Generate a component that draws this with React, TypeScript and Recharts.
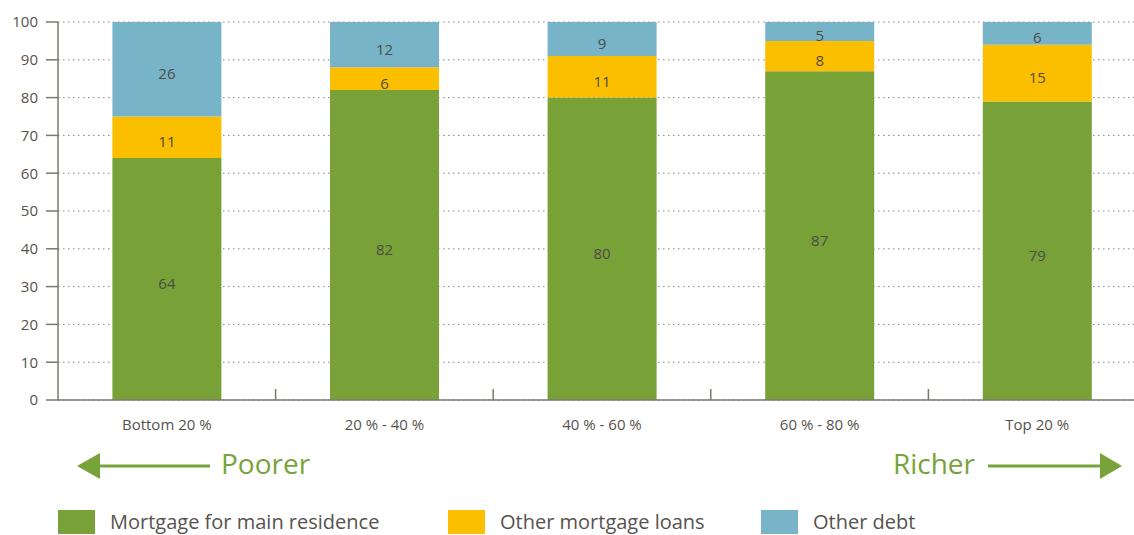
import React from "react";
import { BarChart, Bar, XAxis, YAxis, CartesianGrid, LabelList } from "recharts";

const categories = ["Bottom 20 %", "20 % - 40 %", "40 % - 60 %", "60 % - 80 %", "Top 20 %"];
const mortgageMain = [64, 82, 80, 87, 79];
const otherMortgage = [11, 6, 11, 8, 15];
const otherDebt = [26, 12, 9, 5, 6];
const yTicks = [0, 10, 20, 30, 40, 50, 60, 70, 80, 90, 100];

const series = [
  { key: "main", name: "Mortgage for main residence", color: "#78A237" },
  { key: "other", name: "Other mortgage loans", color: "#FBBF00" },
  { key: "debt", name: "Other debt", color: "#77B4C7" },
];

const data = categories.map((c, i) => ({
  name: c,
  main: mortgageMain[i],
  other: otherMortgage[i],
  debt: otherDebt[i],
}));

const FONT = "'Open Sans', 'Noto Sans', sans-serif";
const TEXT = "#57524d";
const AXIS = "#7d776f";
const GREEN = "#78A33B";

const renderLabel = (props: any) => {
  const { x, y, width, height, value } = props;
  return (
    <text
      x={x + width / 2}
      y={y + height / 2 + 4}
      textAnchor="middle"
      dominantBaseline="central"
      fontSize={15}
      fontFamily={FONT}
      fill="#4f4b47"
    >
      {value}
    </text>
  );
};

// category label plus a short upward tick on the boundary left of each group (except the first)
const CategoryTick = (props: any) => {
  const { x, y, payload, index } = props;
  const half = payload && payload.offset ? payload.offset : 0;
  const axisY = y - 19;
  return (
    <g>
      {index > 0 && half > 0 && (
        <line x1={x - half} x2={x - half} y1={axisY} y2={axisY - 11} stroke={AXIS} strokeWidth={1.5} />
      )}
      <text x={x} y={y} dy="0.71em" textAnchor="middle" fontSize={15} fill={TEXT} fontFamily={FONT}>
        {payload.value}
      </text>
    </g>
  );
};

export default function App() {
  return (
    <div style={{ position: "fixed", left: 0, top: 0, width: 1134, height: 535, overflow: "hidden", background: "#fff", fontFamily: FONT }}>
      <BarChart
        width={1146}
        height={450}
        data={data}
        margin={{ top: 22, right: 0, bottom: 20, left: 0 }}
        barCategoryGap="25%"
      >
        <CartesianGrid vertical={false} stroke="#8a857f" strokeDasharray="1.5 3.5" />
        <XAxis
          dataKey="name"
          height={30}
          tickLine={false}
          tickSize={0}
          tickMargin={19}
          axisLine={{ stroke: AXIS, strokeWidth: 1.5 }}
          tick={<CategoryTick />}
          interval={0}
        />
        <YAxis
          width={58}
          domain={[0, 100]}
          allowDataOverflow
          ticks={yTicks}
          interval={0}
          tickSize={12}
          tickMargin={8}
          axisLine={{ stroke: AXIS, strokeWidth: 1.5 }}
          tickLine={{ stroke: AXIS, strokeWidth: 1.5 }}
          tick={{ fontSize: 15, fill: TEXT, fontFamily: FONT }}
        />
        {series.map((s) => (
          <Bar
            key={s.key}
            dataKey={s.key}
            name={s.name}
            stackId="a"
            fill={s.color}
            isAnimationActive={false}
          >
            <LabelList dataKey={s.key} content={renderLabel} />
          </Bar>
        ))}
      </BarChart>

      <svg width={1134} height={535} style={{ position: "absolute", left: 0, top: 0, pointerEvents: "none" }}>
        <line x1={98} y1={466} x2={210} y2={466} stroke={GREEN} strokeWidth={3} />
        <polygon points="77,466 100,453 100,479" fill={GREEN} />
        <text x={221} y={474} fontSize={28} fontFamily={FONT} fill={GREEN}>Poorer</text>
        <text x={975} y={474} fontSize={28} fontFamily={FONT} fill={GREEN} textAnchor="end">Richer</text>
        <line x1={988} y1={466} x2={1102} y2={466} stroke={GREEN} strokeWidth={3} />
        <polygon points="1100,453 1122,466 1100,479" fill={GREEN} />
      </svg>

      {series.map((s, i) => (
        <div
          key={s.key}
          style={{
            position: "absolute",
            left: [58, 448, 761][i],
            top: 510,
            display: "flex",
            alignItems: "center",
            height: 24,
          }}
        >
          <div style={{ width: 37, height: 24, background: s.color }} />
          <span style={{ marginLeft: 15, fontSize: 20, lineHeight: "24px", color: TEXT, fontFamily: FONT, whiteSpace: "nowrap" }}>{s.name}</span>
        </div>
      ))}
    </div>
  );
}
